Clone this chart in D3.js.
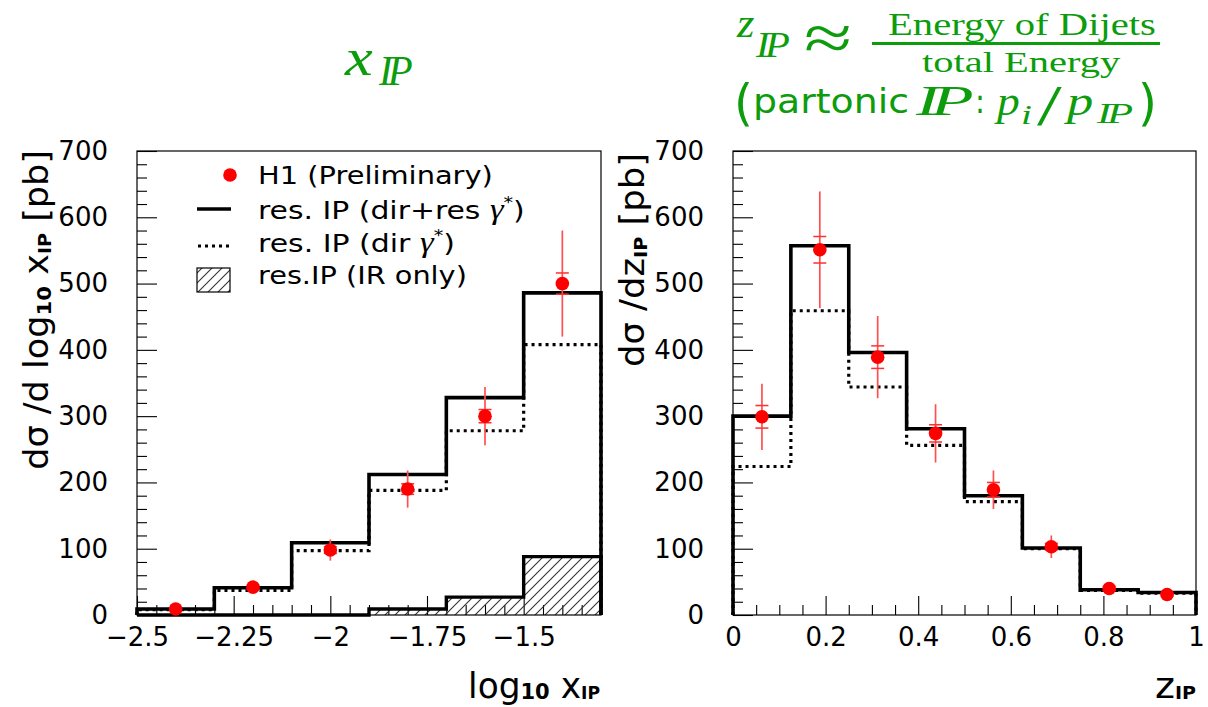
<!DOCTYPE html>
<html><head><meta charset="utf-8">
<script src="https://cdn.jsdelivr.net/npm/d3@7"></script>
<style>body{margin:0;background:#fff}svg{display:block}</style>
</head><body><svg id="c" width="1208" height="707"></svg>
<script>
// ---------- data ----------
const xipEdges = [-2.5, -2.3, -2.1, -1.9, -1.7, -1.5, -1.3];
const xipFull  = [9, 41, 109, 212, 328, 486];      // res. IP (dir+res gamma*)
const xipDir   = [8, 37, 97, 188, 278, 408];       // res. IP (dir gamma*)
const xipIR    = [0, 0, 0, 9, 27, 88];             // res.IP (IR only)
const xipH1    = [9, 42, 98, 190, 300, 500];       // H1 (Preliminary)
const xipStat  = [1, 3, 5, 8, 10, 16];
const xipTot   = [3, 6, 16, 28, 44, 80];

const zEdges = [0, 0.125, 0.25, 0.375, 0.5, 0.625, 0.75, 0.875, 1];
const zFull  = [300, 557, 396, 281, 180, 101, 38, 34];
const zDir   = [224, 459, 344, 256, 171, 100, 37, 33];
const zH1    = [299, 551, 389, 274, 189, 103, 40, 31];
const zStat  = [17, 20, 17, 13, 11, 5, 3, 2];
const zTot   = [50, 88, 62, 44, 29, 17, 7, 5];

const yTicks = [0, 100, 200, 300, 400, 500, 600, 700];
const yTickLabels = ["0", "100", "200", "300", "400", "500", "600", "700"];
const xipTicks = [-2.5, -2.25, -2, -1.75, -1.5];
const xipTickLabels = ["\u22122.5", "\u22122.25", "\u22122", "\u22121.75", "\u22121.5"];
const zTicks = [0, 0.2, 0.4, 0.6, 0.8, 1];
const zTickLabels = ["0", "0.2", "0.4", "0.6", "0.8", "1"];

const legendLabels = ["H1 (Preliminary)", "res. IP (dir+res ", "res. IP (dir ", "res.IP (IR only)"];

// ---------- drawing ----------
const svg = d3.select('#c');
const GREEN = '#0c9c0c';
const RED = '#ff0000';
const defs = svg.append('defs');
defs.append('pattern').attr('id', 'hatch').attr('patternUnits', 'userSpaceOnUse')
  .attr('width', 10).attr('height', 10)
  .append('path').attr('d', 'M-1,11 L11,-1 M-1,1 L1,-1 M9,11 L11,9')
  .attr('stroke', '#333').attr('stroke-width', 1.1).attr('fill', 'none');

function txt(x, y, parts, o) {
  const g = svg.append('g');
  const t = g.append('text')
    .attr('font-family', o.family || 'DejaVu Sans')
    .attr('font-size', o.size)
    .attr('fill', o.color || '#000')
    .attr('text-anchor', o.anchor || 'start');
  if (o.italic) t.attr('font-style', 'italic');
  if (o.ls) t.attr('letter-spacing', o.ls);
  let cur = 0;
  parts.forEach(p => {
    if (typeof p === 'string') p = {t: p};
    const s = t.append('tspan').text(p.t);
    const sh = p.dy || 0;
    if (sh !== cur) { s.attr('dy', sh - cur); cur = sh; }
    if (p.size) s.attr('font-size', p.size);
    if (p.italic) s.attr('font-style', 'italic');
    if (p.family) s.attr('font-family', p.family);
    if (p.weight) s.attr('font-weight', p.weight);
    if (p.dx) s.attr('dx', p.dx);
  });
  let tr = `translate(${x},${y})` + (o.rotate ? ` rotate(${o.rotate})` : '');
  if (o.width) {
    const w = t.node().getBBox().width;
    tr += ` scale(${o.width / w},1)`;
  }
  g.attr('transform', tr);
  return g;
}

function stepPts(edges, vals) {
  const pts = [[edges[0], 0]];
  vals.forEach((v, i) => { pts.push([edges[i], v]); pts.push([edges[i + 1], v]); });
  pts.push([edges[edges.length - 1], 0]);
  return pts;
}

function panel(c) {
  const x = d3.scaleLinear().domain(c.xDomain).range([c.left, c.right]);
  const y = d3.scaleLinear().domain([0, 700]).range([615, 151]);
  const g = svg.append('g');
  const line = d3.line().x(d => x(d[0])).y(d => y(d[1]));

  const minorY = d3.range(0, 701, 20).filter(v => v % 100 !== 0);
  g.append('g').attr('transform', `translate(${c.left},0)`)
    .call(d3.axisLeft(y).tickValues(yTicks).tickSize(-20).tickPadding(29)
      .tickFormat((d, i) => yTickLabels[i]));
  g.append('g').attr('transform', `translate(${c.left},0)`)
    .call(d3.axisLeft(y).tickValues(minorY).tickSize(-10).tickFormat(''));
  g.append('g').attr('transform', 'translate(0,615)')
    .call(d3.axisBottom(x).tickValues(c.xTicks).tickSize(-19).tickPadding(13)
      .tickFormat((d, i) => c.xLabels[i]));
  g.append('g').attr('transform', 'translate(0,615)')
    .call(d3.axisBottom(x).tickValues(c.xMinor).tickSize(-10).tickFormat(''));
  g.selectAll('.domain').remove();
  g.selectAll('.tick line').attr('stroke', '#000').attr('stroke-width', 1.1);
  g.selectAll('.tick text').attr('font-family', 'DejaVu Sans').attr('font-size', 26).attr('fill', '#000');

  if (c.ir) {
    const pts = stepPts(c.edges, c.ir);
    g.append('path').attr('d', line(pts) + 'Z').attr('fill', 'url(#hatch)').attr('stroke', 'none');
    g.append('path').attr('d', line(pts)).attr('fill', 'none').attr('stroke', '#000').attr('stroke-width', 3.4);
  }
  g.append('path').attr('d', line(stepPts(c.edges, c.dir))).attr('fill', 'none')
    .attr('stroke', '#000').attr('stroke-width', 3.2).attr('stroke-dasharray', '3,4');
  g.append('path').attr('d', line(stepPts(c.edges, c.full))).attr('fill', 'none')
    .attr('stroke', '#000').attr('stroke-width', 3.6).attr('stroke-linejoin', 'miter');

  g.append('rect').attr('x', c.left).attr('y', 151).attr('width', c.right - c.left).attr('height', 464)
    .attr('fill', 'none').attr('stroke', '#000').attr('stroke-width', 1.2);

  const centers = c.h1.map((v, i) => (c.edges[i] + c.edges[i + 1]) / 2);
  const pg = g.append('g');
  c.h1.forEach((v, i) => {
    const cx = x(centers[i]);
    pg.append('line').attr('x1', cx).attr('x2', cx).attr('y1', y(v + c.tot[i])).attr('y2', y(v - c.tot[i]))
      .attr('stroke', '#ff5050').attr('stroke-width', 1.7);
    [v + c.stat[i], v - c.stat[i]].forEach(s => {
      pg.append('line').attr('x1', cx - 6.5).attr('x2', cx + 6.5).attr('y1', y(s)).attr('y2', y(s))
        .attr('stroke', '#ff3030').attr('stroke-width', 1.5);
    });
    pg.append('circle').attr('cx', cx).attr('cy', y(v)).attr('r', 6.8).attr('fill', RED);
  });
  return {x, y};
}

panel({
  xDomain: [-2.5, -1.3], left: 137, right: 601,
  xTicks: xipTicks, xLabels: xipTickLabels,
  xMinor: d3.range(-2.45, -1.3, 0.05).filter(v => Math.abs(v * 4 - Math.round(v * 4)) > 1e-6),
  edges: xipEdges, full: xipFull, dir: xipDir, ir: xipIR, h1: xipH1, stat: xipStat, tot: xipTot
});
panel({
  xDomain: [0, 1], left: 733, right: 1196,
  xTicks: zTicks, xLabels: zTickLabels,
  xMinor: d3.range(0.05, 1, 0.05).filter(v => Math.abs(v * 5 - Math.round(v * 5)) > 1e-6),
  edges: zEdges, full: zFull, dir: zDir, ir: null, h1: zH1, stat: zStat, tot: zTot
});

// ---------- axis titles ----------
txt(48, 150, ["d\u03c3 /d log", {t: "10", size: 20, dy: 3, weight: 'bold'}, {t: " x", dy: 0},
  {t: "IP", size: 18, dy: 3, weight: 'bold'}, {t: " [pb]", dy: 0}],
  {size: 33, rotate: -90, anchor: 'end', width: 320});
txt(644, 153, ["d\u03c3 /dz", {t: "IP", size: 18, dy: 3, weight: 'bold'}, {t: " [pb]", dy: 0}],
  {size: 33, rotate: -90, anchor: 'end', width: 214});
txt(600, 698, ["log", {t: "10", size: 22, dy: 1, weight: 'bold'}, {t: " x", dy: 0},
  {t: "IP", size: 18, dy: 1, weight: 'bold'}], {size: 36, anchor: 'end', width: 132});
txt(1196, 698, ["z", {t: "IP", size: 18, dy: 1, weight: 'bold'}], {size: 36, anchor: 'end', width: 41});

// ---------- legend ----------
svg.append('circle').attr('cx', 230).attr('cy', 175).attr('r', 6.8).attr('fill', RED);
svg.append('line').attr('x1', 197).attr('x2', 231).attr('y1', 209).attr('y2', 209)
  .attr('stroke', '#000').attr('stroke-width', 3.6);
svg.append('line').attr('x1', 198).attr('x2', 231).attr('y1', 246).attr('y2', 246)
  .attr('stroke', '#000').attr('stroke-width', 3).attr('stroke-dasharray', '3,4');
svg.append('rect').attr('x', 197).attr('y', 268).attr('width', 33).attr('height', 24)
  .attr('fill', 'url(#hatch)').attr('stroke', '#000').attr('stroke-width', 1.2);
const gam = {t: "\u03b3", italic: true, family: 'Liberation Serif', size: 29};
txt(258, 184, [legendLabels[0]], {size: 25, width: 235});
txt(258, 219, [legendLabels[1], gam, {t: "*", size: 16, dy: -11}, {t: ")", dy: 0}], {size: 25, width: 267});
txt(258, 252, [legendLabels[2], gam, {t: "*", size: 16, dy: -11}, {t: ")", dy: 0}], {size: 25, width: 197});
txt(258, 284, [legendLabels[3]], {size: 25, width: 209});

// ---------- green titles ----------
const SER = 'Liberation Serif';
txt(345, 75, ["x"], {size: 52, family: SER, italic: true, color: GREEN, width: 29});
txt(379, 85, ["IP"], {size: 42, family: SER, italic: true, color: GREEN, ls: -5, width: 34});

txt(737, 37, ["z"], {size: 40, family: SER, italic: true, color: GREEN, width: 19});
txt(756, 57, ["IP"], {size: 36, family: SER, italic: true, color: GREEN, ls: -4, width: 35});
txt(804, 60, ["\u2248"], {size: 66, family: SER, color: GREEN, width: 48});
svg.append('line').attr('x1', 872).attr('x2', 1160).attr('y1', 43.5).attr('y2', 43.5)
  .attr('stroke', GREEN).attr('stroke-width', 3);
txt(888, 35, ["Energy of Dijets"], {size: 31, family: SER, color: GREEN, width: 268});
txt(922, 72, ["total Energy"], {size: 29, family: SER, color: GREEN, width: 199});

txt(734, 120, ["("], {size: 50, color: GREEN, width: 19});
txt(753, 113, ["partonic"], {size: 34, color: GREEN, width: 156});
txt(916, 115, ["IP"], {size: 42, family: SER, italic: true, color: GREEN, ls: -5, width: 58});
txt(975, 113, [":"], {size: 34, color: GREEN, width: 10});
txt(997, 115, ["p"], {size: 42, family: SER, italic: true, color: GREEN, width: 26});
txt(1021, 124, ["i"], {size: 27, family: SER, italic: true, color: GREEN, width: 11});
txt(1037, 125, ["/"], {size: 58, family: SER, color: GREEN, width: 26});
txt(1067, 115, ["p"], {size: 42, family: SER, italic: true, color: GREEN, width: 30});
txt(1097, 123, ["IP"], {size: 30, family: SER, italic: true, color: GREEN, ls: -3, width: 37});
txt(1138, 120, [")"], {size: 50, color: GREEN, width: 19});
</script>
</body></html>
